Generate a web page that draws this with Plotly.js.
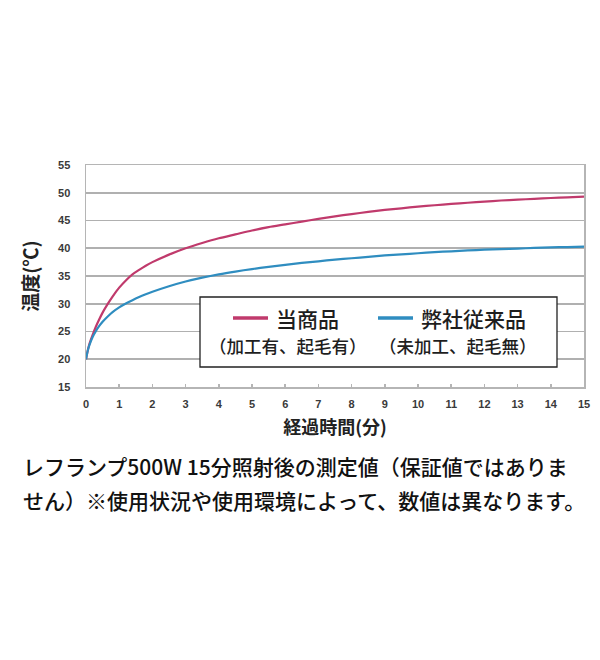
<!DOCTYPE html>
<html>
<head>
<meta charset="utf-8">
<script src="https://cdn.plot.ly/plotly-3.0.1.min.js"></script>
<style>
  html, body { margin: 0; padding: 0; background: #ffffff; }
  #chart { width: 600px; height: 660px; }
</style>
</head>
<body>
<div id="chart"></div>
<script>
// ---- data ----
const timeMin = [0, 0.05, 0.1, 0.2, 0.3, 0.4, 0.5, 0.67, 0.8, 1, 1.2, 1.4, 1.6, 1.8, 2, 2.5, 3, 3.5, 4, 4.5, 5, 5.5, 6, 6.5, 7, 7.5, 8, 8.5, 9, 9.5, 10, 10.5, 11, 11.5, 12, 12.5, 13, 13.5, 14, 14.5, 15];
const tempNew = [20, 21.5, 22.7, 24.4, 25.9, 27.2, 28.4, 30.1, 31.3, 32.9, 34.2, 35.3, 36.1, 36.85, 37.5, 38.85, 40.0, 40.95, 41.8, 42.5, 43.2, 43.8, 44.3, 44.8, 45.3, 45.75, 46.15, 46.55, 46.9, 47.2, 47.5, 47.75, 48.0, 48.2, 48.4, 48.6, 48.75, 48.9, 49.05, 49.18, 49.3];
const tempOld = [20, 21.5, 22.5, 24.0, 25.1, 26.0, 26.75, 27.8, 28.5, 29.35, 30.05, 30.65, 31.2, 31.7, 32.15, 33.15, 34.0, 34.7, 35.3, 35.8, 36.25, 36.65, 37.0, 37.35, 37.65, 37.95, 38.2, 38.45, 38.7, 38.9, 39.1, 39.3, 39.45, 39.6, 39.75, 39.85, 39.95, 40.05, 40.15, 40.22, 40.3];
const seriesNames = ["当商品", "弊社従来品"];
const seriesNotes = ["（加工有、起毛有）", "（未加工、起毛無）"];
const xTicks = [0, 1, 2, 3, 4, 5, 6, 7, 8, 9, 10, 11, 12, 13, 14, 15];
const yTicks = [15, 20, 25, 30, 35, 40, 45, 50, 55];
const xTitle = "経過時間(分)";
const yTitle = "温度(℃)";
const captionLines = [
  "レフランプ500W 15分照射後の測定値（保証値ではありま",
  "せん）※使用状況や使用環境によって、数値は異なります。"
];

// ---- styling ----
const colNew = "#c03a6c";
const colOld = "#2f8dc0";
const cjk = "'Noto Sans CJK JP', 'Noto Sans', sans-serif";
const tickFont = { family: "'Liberation Sans', Arial, sans-serif", size: 11, color: "#3a3a3a", weight: "bold" };

const traces = [
  { x: timeMin, y: tempNew, name: seriesNames[0], mode: "lines", type: "scatter",
    line: { color: colNew, width: 2.2, shape: "spline", smoothing: 0.8 }, showlegend: false, hoverinfo: "skip" },
  { x: timeMin, y: tempOld, name: seriesNames[1], mode: "lines", type: "scatter",
    line: { color: colOld, width: 2.2, shape: "spline", smoothing: 0.8 }, showlegend: false, hoverinfo: "skip" }
];

// plot area in px: left 86, right 584, top 165, bottom 387
const W = 600, H = 660, L = 86, R = 16, T = 165, B = 273;
const pw = W - L - R, ph = H - T - B;
const px = v => (v - L) / pw;          // page x -> paper x
const py = v => (H - B - v) / ph;      // page y -> paper y (from bottom)

const legendBox = { x0: 200, x1: 557, y0: 297, y1: 367 };
const shapes = [
  { type: "rect", xref: "paper", yref: "paper",
    x0: px(legendBox.x0), x1: px(legendBox.x1), y0: py(legendBox.y1), y1: py(legendBox.y0),
    line: { color: "#222", width: 1.3 }, fillcolor: "#ffffff", layer: "above" },
  { type: "line", xref: "paper", yref: "paper", x0: px(233), x1: px(268), y0: py(318), y1: py(318),
    line: { color: colNew, width: 3.5 }, layer: "above" },
  { type: "line", xref: "paper", yref: "paper", x0: px(378), x1: px(413), y0: py(318), y1: py(318),
    line: { color: colOld, width: 3.5 }, layer: "above" }
];

const nameFont = { family: cjk, size: 21, color: "#1e1e1e", weight: 500 };
const noteFont = { family: cjk, size: 17.5, color: "#1e1e1e", weight: 500 };
const capFont = { family: cjk, size: 21, color: "#111111", weight: 500 };

const annotations = [
  { text: seriesNames[0], xref: "paper", yref: "paper", x: px(274), y: py(318), xanchor: "left", yanchor: "middle",
    showarrow: false, font: nameFont },
  { text: seriesNames[1], xref: "paper", yref: "paper", x: px(419), y: py(318), xanchor: "left", yanchor: "middle",
    showarrow: false, font: nameFont },
  { text: seriesNotes[0], xref: "paper", yref: "paper", x: px(288), y: py(345), xanchor: "center", yanchor: "middle",
    showarrow: false, font: noteFont },
  { text: seriesNotes[1], xref: "paper", yref: "paper", x: px(458), y: py(345), xanchor: "center", yanchor: "middle",
    showarrow: false, font: noteFont },
  { text: captionLines[0], xref: "paper", yref: "paper", x: px(21), y: py(466), xanchor: "left", yanchor: "middle",
    showarrow: false, font: capFont },
  { text: captionLines[1], xref: "paper", yref: "paper", x: px(21), y: py(500), xanchor: "left", yanchor: "middle",
    showarrow: false, font: capFont }
];

const layout = {
  width: W, height: H,
  margin: { l: L, r: R, t: T, b: B, pad: 0 },
  paper_bgcolor: "#ffffff", plot_bgcolor: "#ffffff",
  showlegend: false,
  xaxis: {
    range: [0, 15], tickvals: xTicks, ticktext: xTicks.map(String),
    showgrid: false, zeroline: false,
    showline: true, linecolor: "#b5b5b5", linewidth: 1.5, mirror: true,
    ticks: "inside", ticklen: 3, tickcolor: "#b5b5b5", tickwidth: 1.5,
    ticklabelstandoff: 6,
    tickfont: tickFont,
    title: { text: xTitle, standoff: 12, font: { family: cjk, size: 18, color: "#222", weight: "bold" } },
    fixedrange: true
  },
  yaxis: {
    range: [15, 55], tickvals: yTicks, ticktext: yTicks.map(String),
    showgrid: true, gridcolor: "#b0b0b0", gridwidth: 1.6, zeroline: false,
    showline: true, linecolor: "#b5b5b5", linewidth: 1.5, mirror: true,
    ticks: "", ticklabelstandoff: 12,
    tickfont: tickFont,
    title: { text: yTitle, standoff: 14, font: { family: cjk, size: 19, color: "#222", weight: "bold" } },
    fixedrange: true
  },
  shapes: shapes,
  annotations: annotations
};

Plotly.newPlot("chart", traces, layout, { staticPlot: true, displayModeBar: false });
</script>
</body>
</html>
